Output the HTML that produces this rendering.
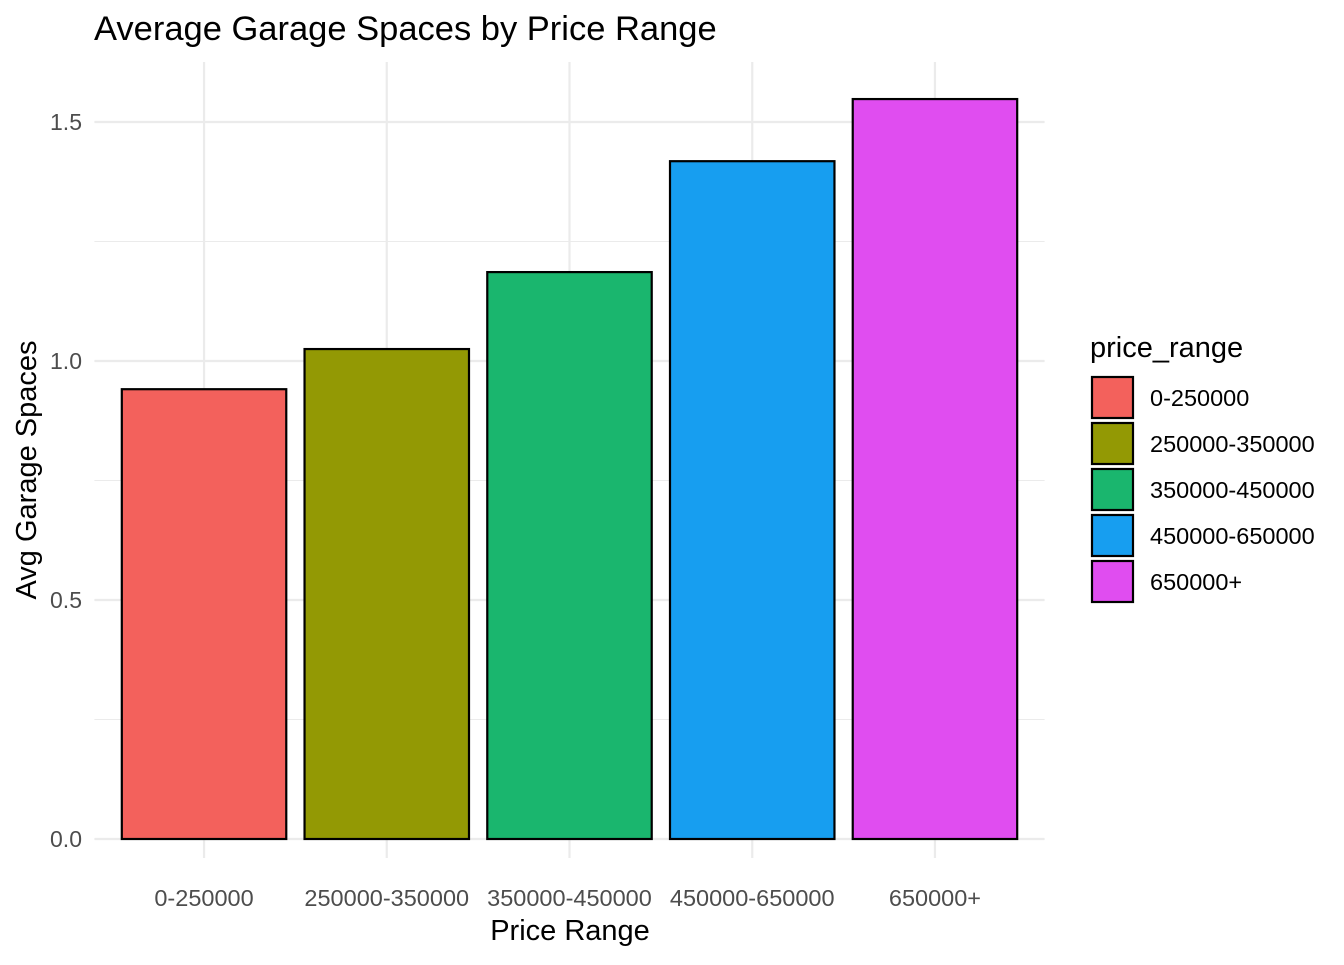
<!DOCTYPE html>
<html><head><meta charset="utf-8"><style>
body{margin:0;background:#fff;}
svg text{font-family:"Liberation Sans",Arial,sans-serif;}
</style></head><body>
<svg id="chart" width="1344" height="960" xmlns="http://www.w3.org/2000/svg">
<rect width="1344" height="960" fill="#fff"/>
<text x="94" y="40" font-size="34.5" fill="#000">Average Garage Spaces by Price Range</text>
<g id="grid"></g><g id="bars"></g><g id="axes"></g><g id="legend"></g>
</svg>
<script>
const categories=["0-250000","250000-350000","350000-450000","450000-650000","650000+"];
const values=[0.941,1.025,1.186,1.418,1.548];
const colors=["#F3615C","#939904","#1AB66E","#179EF0","#E04DF0"];
const yTicks=[0,0.5,1.0,1.5];
const yTickLabels=["0.0","0.5","1.0","1.5"];
const yMinor=[0.25,0.75,1.25];
const ns="http://www.w3.org/2000/svg";
const L=94.4,R=1044.6,Y0=839,PX=478,T=62,B=858;
const step=(R-L)/(categories.length+0.2);
const xs=i=>L+(i+0.6)*step;
const ys=v=>Y0-v*PX;
function mk(tag,attrs,parent){const e=document.createElementNS(ns,tag);for(const k in attrs)e.setAttribute(k,attrs[k]);parent.appendChild(e);return e;}
const grid=document.getElementById('grid'),bars=document.getElementById('bars'),axes=document.getElementById('axes'),leg=document.getElementById('legend');
yMinor.forEach(v=>{const l=mk('line',{x1:L,x2:R,y1:ys(v),y2:ys(v),stroke:'#ebebeb','stroke-width':1.1},grid);

});
yTicks.forEach((v,i)=>{const l=mk('line',{x1:L,x2:R,y1:ys(v),y2:ys(v),stroke:'#ebebeb','stroke-width':2.2},grid);


const t=mk('text',{x:82,y:ys(v)+8,'text-anchor':'end','font-size':23,fill:'#4d4d4d'},axes);t.textContent=yTickLabels[i];

});
categories.forEach((c,i)=>{const l=mk('line',{x1:xs(i),x2:xs(i),y1:T,y2:B,stroke:'#ebebeb','stroke-width':2.2},grid);


const w=step*0.9;
const b=mk('rect',{x:xs(i)-w/2,y:ys(values[i]),width:w,height:Y0-ys(values[i]),fill:colors[i],stroke:'#000','stroke-width':2.2},bars);


const t=mk('text',{x:xs(i),y:906,'text-anchor':'middle','font-size':23.5,fill:'#4d4d4d'},axes);t.textContent=c;


const k=mk('rect',{x:1092,y:377+i*46,width:41,height:41,fill:colors[i],stroke:'#000','stroke-width':2.2},leg);


const lt=mk('text',{x:1150,y:406+i*46,'font-size':23.5,fill:'#000'},leg);lt.textContent=c;

});
const xt=mk('text',{x:570,y:940,'text-anchor':'middle','font-size':29,fill:'#000'},axes);xt.textContent="Price Range";


const yt=mk('text',{x:0,y:0,'text-anchor':'middle','font-size':29,fill:'#000',transform:'translate(36,470) rotate(-90)'},axes);yt.textContent="Avg Garage Spaces";


const lg=mk('text',{x:1090,y:357,'font-size':29,fill:'#000'},leg);lg.textContent="price_range";


</script>
</body></html>
